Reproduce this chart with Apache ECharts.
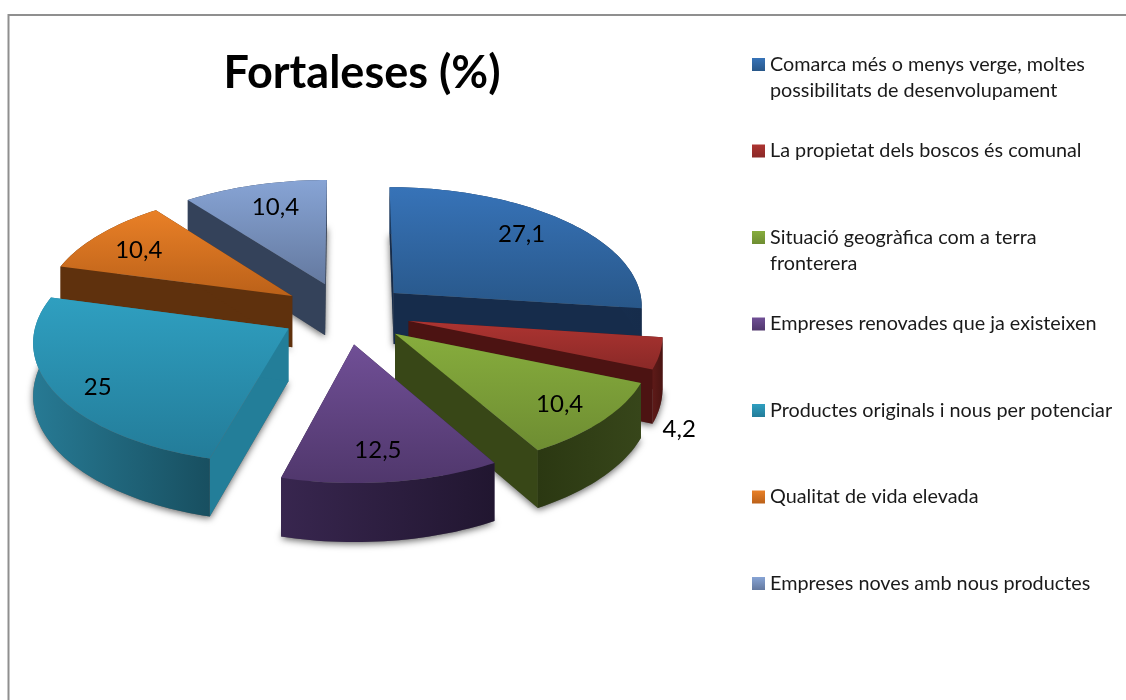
<!DOCTYPE html>
<html>
<head>
<meta charset="utf-8">
<style>html,body{margin:0;padding:0;background:#fff}#chart{width:1126px;height:700px}</style>
<script src="https://cdn.jsdelivr.net/npm/echarts@6/dist/echarts.min.js"></script>
</head>
<body>
<div id="chart"></div>
<script>
// Category names and their percentages
const categories = [
  'Comarca més o menys verge, moltes possibilitats de desenvolupament',
  'La propietat dels boscos és comunal',
  'Situació geogràfica com a terra fronterera',
  'Empreses renovades que ja existeixen',
  'Productes originals i nous per potenciar',
  'Qualitat de vida elevada',
  'Empreses noves amb nous productes'
];
const values = [27.1, 4.2, 10.4, 12.5, 25, 10.4, 10.4];
const legendLines = [
  ['Comarca més o menys verge, moltes', 'possibilitats de desenvolupament'],
  ['La propietat dels boscos és comunal'],
  ['Situació geogràfica com a terra', 'fronterera'],
  ['Empreses renovades que ja existeixen'],
  ['Productes originals i nous per potenciar'],
  ['Qualitat de vida elevada'],
  ['Empreses noves amb nous productes']
];

// Face colours per slice: top gradient, flat cut face, curved wall gradient
const topLight = ['#3773b8', '#ad3431', '#87ad3d', '#704f96', '#2f9fc0', '#e98027', '#87a4d5'];
const topDark  = ['#285789', '#8a2927', '#6e8d32', '#50376c', '#237c99', '#bb6119', '#64799f'];
const cutFace  = ['#162c4b', '#4c1312', '#384717', '#2e1e42', '#237e99', '#5f310d', '#34425a'];
const wallFrom = ['#1b3a60', '#5e1a18', '#2b3812', '#38264f', '#277a94', '#5f310d', '#34425a'];
const wallTo   = ['#162c4b', '#4a1412', '#37461a', '#211630', '#184f60', '#5f310d', '#34425a'];
// Painter's order, far slices first
const paintOrder = [6, 0, 5, 1, 4, 2, 3];

// Label placement: fraction of the radius from the slice apex, and angular shift
const labelRadius = [0.767, 1.275, 0.81, 0.788, 0.845, 0.769, 0.753];
const labelShift  = [-2.5, 25.4, 0.5, 1.3, -3, -1.9, 1.6];

// Tilted pie geometry
const CX = 345.5, CY = 313, RADIUS = 250.5, EXPLODE = 65, TILT = 0.476, DEPTH = 52, PERSPECTIVE = 2660;
const FONT = 'Lato, "Open Sans", sans-serif';
const total = values.reduce((a, b) => a + b, 0);
const rad = d => d * Math.PI / 180;

function scaleAt(v) { return 1 / (1 - v / PERSPECTIVE); }
function project(u, v, drop) {
  const f = scaleAt(v);
  return [CX + u * f, CY + TILT * v * f + (drop || 0) * f];
}
function sliceGeometry(i) {
  let before = 0;
  for (let k = 0; k < i; k++) before += values[k];
  const start = before / total * 360;
  const end = (before + values[i]) / total * 360;
  const mid = (start + end) / 2;
  const u0 = EXPLODE * Math.sin(rad(mid));
  const v0 = -EXPLODE * Math.cos(rad(mid));
  const rim = [];
  const steps = Math.max(6, Math.round((end - start) / 1.5));
  for (let s = 0; s <= steps; s++) {
    const a = rad(start + (end - start) * s / steps);
    rim.push([u0 + RADIUS * Math.sin(a), v0 - RADIUS * Math.cos(a)]);
  }
  return { start, end, mid, u0, v0, rim };
}
function linear(horizontal, from, to) {
  return {
    type: 'linear', x: 0, y: 0, x2: horizontal ? 1 : 0, y2: horizontal ? 0 : 1,
    colorStops: [{ offset: 0, color: from }, { offset: 1, color: to }]
  };
}
function poly(points, fill, z2) {
  return { type: 'polygon', shape: { points }, style: { fill, stroke: null }, z2: z2 || 0, silent: true };
}

function renderSlice(i) {
  return function (params, api) {
    const g = sliceGeometry(i);
    const value = api.value(0);
    const apexTop = project(g.u0, g.v0);
    const apexLow = project(g.u0, g.v0, DEPTH);
    const rimTop = g.rim.map(p => project(p[0], p[1]));
    const rimLow = g.rim.map(p => project(p[0], p[1], DEPTH));
    const last = rimTop.length - 1;
    const cutA = [apexTop, rimTop[0], rimLow[0], apexLow];
    const cutB = [apexTop, rimTop[last], rimLow[last], apexLow];
    const wall = rimTop.concat(rimLow.slice().reverse());
    const a = rad(g.mid + labelShift[i]);
    const r = labelRadius[i] * RADIUS;
    const lp = project(g.u0 + r * Math.sin(a), g.v0 - r * Math.cos(a));
    return {
      type: 'group',
      children: [
        poly(cutA, cutFace[i]),
        poly(cutB, cutFace[i]),
        poly(wall, linear(true, wallFrom[i], wallTo[i])),
        poly([apexTop].concat(rimTop), linear(false, topLight[i], topDark[i]), 1),
        {
          type: 'text', z2: 5, silent: true,
          style: {
            x: lp[0], y: lp[1], text: String(value).replace('.', ','),
            fill: '#000', font: '24px ' + FONT, align: 'center', verticalAlign: 'middle'
          }
        }
      ]
    };
  };
}

// Soft drop shadow under every slice, drawn from the same slice geometry
function renderShadow(params, api) {
  const g = sliceGeometry(params.dataIndex);
  const low = [project(g.u0, g.v0, DEPTH)].concat(g.rim.map(p => project(p[0], p[1], DEPTH)));
  return {
    type: 'polygon', shape: { points: low }, silent: true,
    style: { fill: '#666', shadowBlur: 7, shadowColor: 'rgba(0,0,0,0.6)', shadowOffsetX: 0, shadowOffsetY: 2 }
  };
}

const series = [{
  type: 'custom', name: 'shadow', coordinateSystem: 'none', z: 1, silent: true,
  animation: false, data: values.map(v => [v]), renderItem: renderShadow
}];
paintOrder.forEach((i, order) => {
  series.push({
    type: 'custom', name: categories[i], coordinateSystem: 'none', z: 2 + order, silent: true,
    animation: false, data: [[values[i]]], renderItem: renderSlice(i),
    itemStyle: { color: linear(false, topLight[i], topDark[i]) }
  });
});

const chart = echarts.init(document.getElementById('chart'), null, { renderer: 'canvas' });
chart.setOption({
  animation: false,
  backgroundColor: '#fff',
  title: {
    text: 'Fortaleses (%)', left: 357, top: 46, textAlign: 'center',
    textStyle: { fontFamily: FONT, fontSize: 45, fontWeight: 'bold', color: '#000' }
  },
  legend: {
    orient: 'vertical', left: 747, top: 20.5, itemWidth: 13, itemHeight: 13, itemGap: 8.5,
    icon: 'rect', selectedMode: false,
    data: categories.map((name, i) => ({
      name, itemStyle: { color: linear(false, topLight[i], topDark[i]), borderWidth: 0 }
    })),
    formatter: name => {
      const lines = legendLines[categories.indexOf(name)];
      return '\n' + lines[0] + '\n' + (lines[1] || ' ');
    },
    textStyle: { fontFamily: FONT, fontSize: 19.8, lineHeight: 26, color: '#1a1a1a' }
  },
  graphic: [{
    type: 'rect', silent: true, z: 0,
    shape: { x: 8.5, y: 15, width: 1300, height: 900 },
    style: { fill: null, stroke: '#8f8f8f', lineWidth: 2 }
  }],
  series
});
</script>
</body>
</html>
